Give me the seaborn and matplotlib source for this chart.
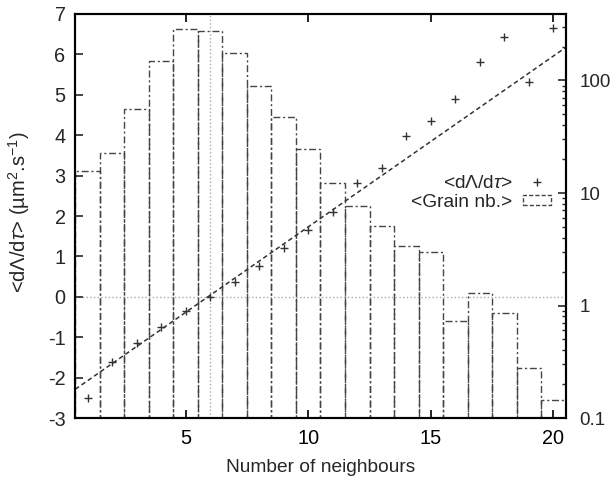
import matplotlib.pyplot as plt
import seaborn as sns
from matplotlib.lines import Line2D
from matplotlib.patches import Patch
from matplotlib.ticker import LogLocator, NullFormatter


sns.set_style("white")
plt.rcParams["font.family"] = ["Liberation Sans", "DejaVu Sans"]
plt.rcParams["mathtext.fontset"] = "custom"
plt.rcParams["mathtext.rm"] = "Liberation Sans"
plt.rcParams["mathtext.it"] = "Liberation Sans:italic"
plt.rcParams["axes.unicode_minus"] = False

# data
neighbours = list(range(1, 21))
growth_rate = [-2.51, -1.61, -1.15, -0.74, -0.34, 0.0, 0.37, 0.77, 1.22, 1.65,
               2.11, 2.82, 3.18, 3.98, 4.36, 4.90, 5.82, 6.42, 5.31, 6.65]
grain_nb = [15.8, 22.5, 55.4, 148, 285, 275, 177, 90, 47.7, 24.8,
            12.2, 7.66, 5.09, 3.38, 3.01, 0.73, 1.28, 0.86, 0.28, 0.145]
fit_slope = 0.423
fit_intercept = -2.50
fit_range = [0.5, 20.5]
mean_neighbours = 6

left_ticks = list(range(-3, 8))
right_ticks = [0.1, 1, 10, 100]
right_labels = ["0.1", "1", "10", "100"]
x_ticks = [5, 10, 15, 20]

dark = "#333333"
bar_edge = "#444444"
dashdot = (0, (5, 2, 1.5, 2))
label_rate = r"<d$\mathit{\Lambda}$/d$\mathit{\tau}$>"

fig = plt.figure(figsize=(6.13, 4.79), dpi=100)
ax = fig.add_axes([0.1228, 0.1273, 0.8, 0.8435])
ax2 = ax.twinx()
ax.set_zorder(ax2.get_zorder() + 1)
ax.patch.set_visible(False)

# histogram of grain numbers on the log axis
ax2.set_yscale("log")
sns.barplot(
    x=neighbours,
    y=grain_nb,
    native_scale=True,
    width=1,
    fill=False,
    color=bar_edge,
    linestyle=dashdot,
    linewidth=1,
    errorbar=None,
    ax=ax2,
)
ax2.set_ylim(0.1, 390)
ax2.set_yticks(right_ticks)
ax2.set_yticklabels(right_labels)
ax2.yaxis.set_minor_locator(LogLocator(base=10, subs=range(2, 10)))
ax2.yaxis.set_minor_formatter(NullFormatter())
ax2.set_xlabel("")
ax2.set_ylabel("")

# growth rate points and linear fit
ax.axhline(0, color="#aaaaaa", linestyle=":", linewidth=1, zorder=0)
ax.axvline(mean_neighbours, color="#aaaaaa", linestyle=":", linewidth=1, zorder=0)
sns.scatterplot(x=neighbours, y=growth_rate, marker="+", color=dark,
                s=30, linewidth=1, ax=ax, zorder=3)
fit_y = [fit_slope * v + fit_intercept for v in fit_range]
sns.lineplot(x=fit_range, y=fit_y, color=dark, linewidth=1.1,
             linestyle=(0, (3, 2)), ax=ax)

ax.set_xlim(0.5, 20.5)
ax.set_ylim(-3, 7)
ax.set_xticks(x_ticks)
ax.set_yticks(left_ticks)
ax.set_xlabel("Number of neighbours", fontsize=13.8, labelpad=8)
ax.set_ylabel(label_rate + " (µm$^2$.s$^{-1}$)", fontsize=14.5)
ax.yaxis.set_label_coords(-0.088, 0.51)

ax.tick_params(axis="x", which="major", direction="in", length=6, width=1.2,
               top=True, bottom=True, labelsize=14.3, pad=8, colors="black")
ax.tick_params(axis="y", which="major", direction="in", length=6, width=1.2,
               left=True, right=False, labelsize=14.3, pad=7)
ax2.tick_params(axis="y", which="major", direction="in", length=6, width=1.2,
                right=True, left=False, labelsize=13.6, pad=10)
ax2.tick_params(axis="y", which="minor", direction="in", length=3, width=1,
                right=True, left=False)
ax2.tick_params(axis="x", which="both", bottom=False, top=False)

for a in (ax, ax2):
    for sp in a.spines.values():
        sp.set_linewidth(1.5)
        sp.set_color("black")
        sp.set_visible(True)

handles = [
    Line2D([], [], marker="+", linestyle="none", color=dark, markersize=6),
    Patch(facecolor="none", edgecolor=bar_edge, linestyle=(0, (3, 1.5)), linewidth=1),
]
ax.legend(handles, [label_rate, "<Grain nb.>"], loc="upper right",
          bbox_to_anchor=(551 / 613, 1 - 175 / 479), bbox_transform=fig.transFigure,
          frameon=False, markerfirst=False, fontsize=13.8, handlelength=1.45,
          handleheight=0.38, handletextpad=0.55, labelspacing=0.1,
          borderpad=0, borderaxespad=0)

fig.savefig("out.png", dpi=100)
